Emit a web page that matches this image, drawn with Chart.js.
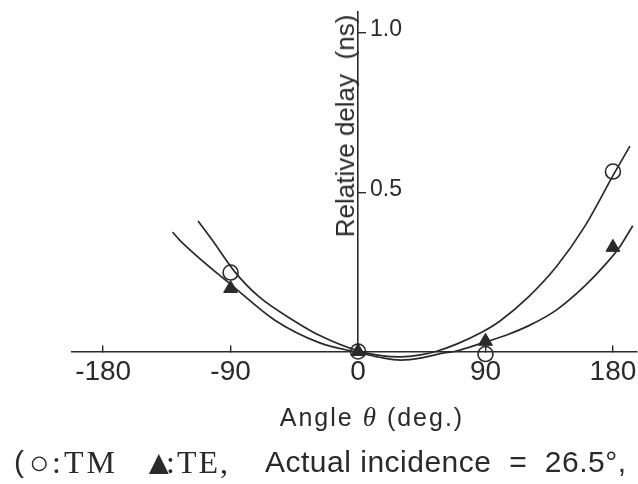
<!DOCTYPE html>
<html><head><meta charset="utf-8">
<script src="https://cdn.jsdelivr.net/npm/chart.js@4.4.1/dist/chart.umd.min.js"></script>
<style>
html,body{margin:0;padding:0;background:#fff;}
#wrap{position:relative;width:638px;height:484px;overflow:hidden;font-family:"Liberation Sans",Arial,sans-serif;color:#2a2a2a;}
canvas{position:absolute;left:0;top:0;}
.t{position:absolute;white-space:pre;line-height:1;}
#ytitle{left:345px;top:126px;font-size:26px;transform:translate(-50%,-50%) rotate(-90deg);}
#xtitle{left:372px;top:417px;font-size:25px;letter-spacing:2px;transform:translate(-50%,-50%);}
#xtitle i{font-family:"Liberation Serif","Times New Roman",serif;font-size:27px;}
.cap{top:462px;font-size:30px;transform:translateY(-50%);}
.serif{font-family:"Liberation Serif","Times New Roman",serif;}
</style></head><body>
<div id="wrap">
<canvas id="c" width="638" height="484"></canvas>
<div class="t" id="ytitle">Relative delay  (ns)</div>
<div class="t" id="xtitle">Angle <i>θ</i> (deg.)</div>
<div class="t cap" style="left:14px">(</div>
<div class="t cap" style="left:29px;font-size:34px">○</div>
<div class="t cap serif" style="left:52px;font-size:32px;letter-spacing:3px">:TM</div>
<div class="t cap" style="left:142px;font-size:34px">▲</div>
<div class="t cap serif" style="left:166px;font-size:32px;letter-spacing:2px">:TE,</div>
<div class="t cap" style="left:265px;letter-spacing:0.5px">Actual incidence  =  26.5°,</div>
</div>
<script>
// ---- data ----
const angleTicks = [-180, -90, 0, 90, 180];
const delayTicks = [0.5, 1.0];
const delayTickLabels = ['0.5', '1.0'];

const markerAngles = [-90, 0, 90, 180];
const tmMeasured = [0.248, 0.0, -0.008, 0.565];
const teMeasured = [0.198, 0.0, 0.032, 0.327];

const tmCurveAngles = [-113, -103, -87, -70, -45, -27, 0, 15, 30, 45, 55, 70, 88, 100, 120, 140, 160, 181, 192];
const tmCurveDelay  = [0.41, 0.35, 0.25, 0.172, 0.096, 0.05, 0.002, -0.012, -0.017, -0.01, 0.0, 0.024, 0.062, 0.095, 0.17, 0.266, 0.392, 0.56, 0.645];

const teCurveAngles = [-131, -126, -87, -59, -27, 0, 15, 30, 45, 60, 68, 88, 105, 121, 140, 160, 175, 185, 194];
const teCurveDelay  = [0.375, 0.35, 0.2, 0.099, 0.027, -0.003, -0.018, -0.027, -0.02, -0.005, 0.0, 0.027, 0.052, 0.082, 0.13, 0.205, 0.275, 0.33, 0.395];

const ink = '#2a2a2a';
const pts = (xs, ys) => xs.map((x, i) => ({x, y: ys[i]}));

const yLabelPlugin = {
  id: 'yLabels',
  afterDraw(chart) {
    const ctx = chart.ctx;
    const xs = chart.scales.x, ys = chart.scales.y;
    const x0 = xs.getPixelForValue(0);
    ctx.save();
    ctx.fillStyle = ink;
    ctx.font = '23px "Liberation Sans", Arial, sans-serif';
    ctx.textAlign = 'left';
    ctx.textBaseline = 'middle';
    delayTicks.forEach((v, i) => {
      ctx.fillText(delayTickLabels[i], x0 + 12, ys.getPixelForValue(v) - 3);
    });
    ctx.restore();
  }
};

const noPad = (s) => { s.paddingLeft = 0; s.paddingRight = 0; s.paddingTop = 0; s.paddingBottom = 0; };

new Chart(document.getElementById('c'), {
  type: 'scatter',
  data: {
    datasets: [
      {label: 'TM fit', type: 'line', data: pts(tmCurveAngles, tmCurveDelay), borderColor: ink, borderWidth: 1.7,
       pointRadius: 0, cubicInterpolationMode: 'monotone', fill: false, clip: false, order: 3},
      {label: 'TE fit', type: 'line', data: pts(teCurveAngles, teCurveDelay), borderColor: ink, borderWidth: 1.7,
       pointRadius: 0, cubicInterpolationMode: 'monotone', fill: false, clip: false, order: 3},
      {label: 'TM', data: pts(markerAngles, tmMeasured), pointStyle: 'circle', pointRadius: 7.5,
       borderColor: ink, borderWidth: 1.6, backgroundColor: 'rgba(0,0,0,0)', clip: false, order: 1},
      {label: 'TE', data: pts(markerAngles, teMeasured), pointStyle: 'triangle', pointRadius: 8,
       borderColor: ink, borderWidth: 1, backgroundColor: ink, clip: false, order: 2}
    ]
  },
  options: {
    responsive: false,
    animation: false,
    devicePixelRatio: 1,
    layout: {autoPadding: false, padding: {left: 72, right: 1, top: 12, bottom: 132.5}},
    plugins: {legend: {display: false}, tooltip: {enabled: false}},
    scales: {
      x: {
        type: 'linear', min: -202, max: 197,
        position: {y: 0},
        afterBuildTicks: (s) => { s.ticks = angleTicks.map(v => ({value: v})); },
        afterFit: noPad,
        grid: {drawOnChartArea: false, drawTicks: true, tickLength: -7, color: ink, lineWidth: 1.4},
        border: {display: true, color: ink, width: 1.6},
        ticks: {color: ink, font: {family: '"Liberation Sans", Arial, sans-serif', size: 28}, padding: 11, maxRotation: 0,
                callback: (v) => String(v)}
      },
      y: {
        type: 'linear', min: 0, max: 1.066,
        position: {x: 0},
        afterBuildTicks: (s) => { s.ticks = delayTicks.map(v => ({value: v})); },
        afterFit: noPad,
        grid: {drawOnChartArea: false, drawTicks: true, tickLength: -9, color: ink, lineWidth: 1.4},
        border: {display: true, color: ink, width: 1.6},
        ticks: {display: false}
      }
    }
  },
  plugins: [yLabelPlugin]
});
</script>
</body></html>
